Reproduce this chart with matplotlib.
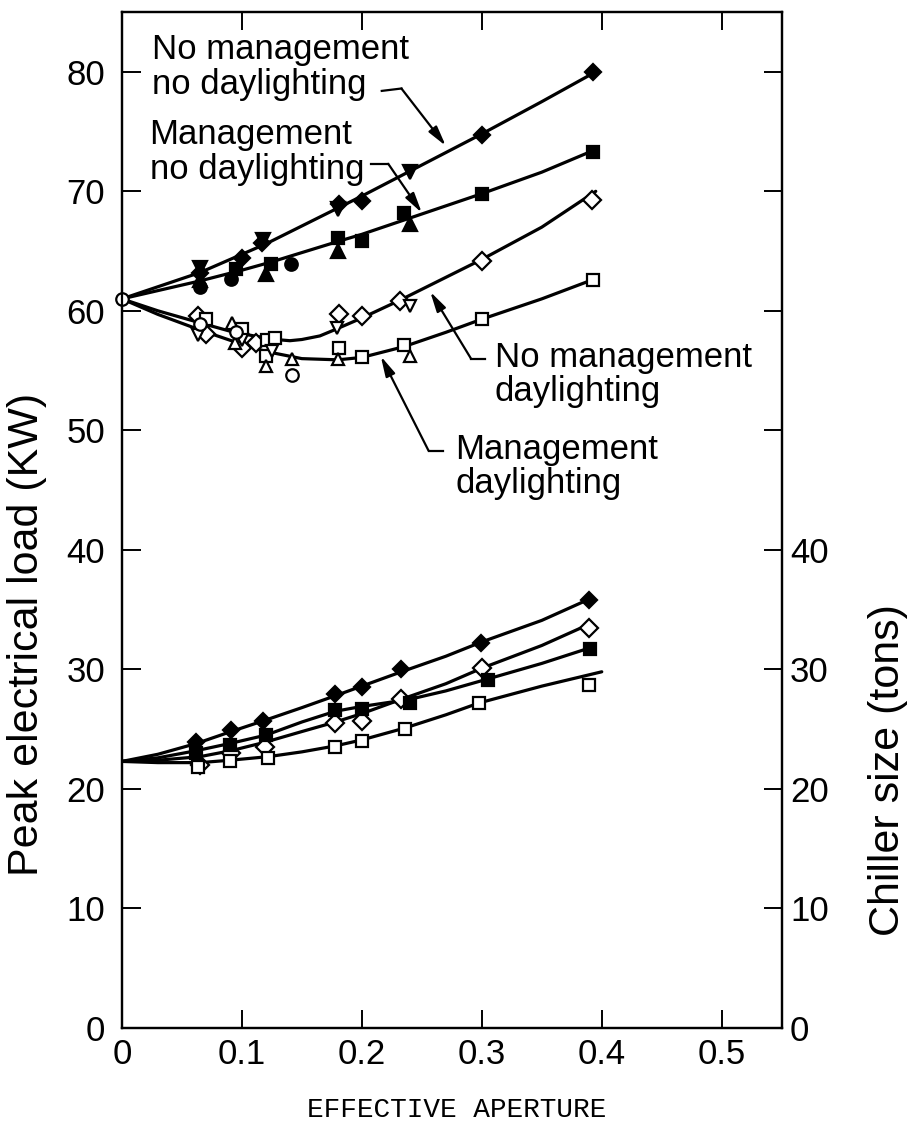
# Peak electrical load and chiller size vs effective aperture
import numpy as np
import matplotlib.pyplot as plt

plt.rcParams['font.family'] = ['Liberation Sans', 'DejaVu Sans']

# --- fitted curves (upper: peak load, kW) ---
nmnd_cx = [0, 0.065, 0.12, 0.2, 0.25, 0.3, 0.35, 0.395]
nmnd_cy = [61, 63.2, 65.6, 69.6, 72.2, 74.8, 77.5, 80.0]
mnd_cx = [0, 0.065, 0.1, 0.125, 0.18, 0.2, 0.25, 0.3, 0.35, 0.395]
mnd_cy = [61, 62.5, 63.4, 64.1, 65.8, 66.4, 68.1, 69.8, 71.6, 73.5]
nmd_cx = [0, 0.03, 0.065, 0.09, 0.11, 0.128, 0.14, 0.15, 0.165, 0.177, 0.2, 0.232, 0.256, 0.3, 0.35, 0.395]
nmd_cy = [61, 60.0, 59.0, 58.3, 57.9, 57.6, 57.5, 57.6, 57.9, 58.4, 59.4, 60.9, 62.1, 64.3, 67.0, 70.0]
md_cx = [0, 0.03, 0.065, 0.1, 0.12, 0.15, 0.18, 0.2, 0.235, 0.27, 0.3, 0.35, 0.395]
md_cy = [61, 59.7, 58.4, 57.2, 56.6, 56.0, 55.9, 56.1, 57.0, 58.2, 59.3, 61.0, 62.7]

# --- fitted curves (lower: chiller size, tons) ---
c_fd_x = [0, 0.03, 0.062, 0.091, 0.118, 0.15, 0.178, 0.2, 0.233, 0.27, 0.3, 0.35, 0.39]
c_fd_y = [22.3, 22.9, 23.8, 24.8, 25.7, 26.8, 27.8, 28.6, 29.8, 31.1, 32.3, 34.1, 35.9]
c_od_x = [0, 0.03, 0.065, 0.091, 0.119, 0.15, 0.178, 0.2, 0.233, 0.27, 0.3, 0.35, 0.39]
c_od_y = [22.3, 22.4, 22.7, 23.2, 23.9, 24.8, 25.6, 26.3, 27.5, 28.8, 30.1, 32.0, 33.8]
c_fs_x = [0, 0.03, 0.062, 0.09, 0.12, 0.15, 0.178, 0.2, 0.24, 0.27, 0.305, 0.35, 0.39]
c_fs_y = [22.3, 22.6, 23.2, 23.8, 24.5, 25.6, 26.5, 26.9, 27.5, 28.2, 29.2, 30.5, 31.8]
c_os_x = [0, 0.03, 0.065, 0.09, 0.122, 0.15, 0.178, 0.2, 0.236, 0.27, 0.298, 0.35, 0.4]
c_os_y = [22.3, 22.2, 22.2, 22.4, 22.7, 23.1, 23.6, 24.1, 25.1, 26.2, 27.2, 28.6, 29.8]

# --- data points, upper group ---
fdia_x = [0.065, 0.1, 0.117, 0.181, 0.2, 0.3, 0.393]
fdia_y = [63.2, 64.4, 65.7, 68.9, 69.2, 74.7, 80.0]
fdtri_x = [0.065, 0.118, 0.18, 0.24]
fdtri_y = [63.6, 65.9, 68.5, 71.6]
fsq_x = [0.095, 0.124, 0.18, 0.2, 0.235, 0.3, 0.393]
fsq_y = [63.5, 63.9, 66.1, 65.8, 68.2, 69.8, 73.3]
futri_x = [0.065, 0.12, 0.18, 0.24]
futri_y = [62.6, 63.1, 65.0, 67.3]
fcir_x = [0.065, 0.091, 0.141]
fcir_y = [62.0, 62.7, 63.9]

odia_x = [0.063, 0.07, 0.1, 0.112, 0.181, 0.2, 0.232, 0.3, 0.392]
odia_y = [59.6, 58.1, 56.9, 57.3, 59.7, 59.6, 60.8, 64.2, 69.3]
osq_x = [0.07, 0.1, 0.121, 0.128, 0.12, 0.181, 0.2, 0.235, 0.3, 0.393]
osq_y = [59.3, 58.5, 57.6, 57.7, 56.2, 56.9, 56.1, 57.1, 59.3, 62.6]
outri_x = [0.092, 0.094, 0.12, 0.142, 0.18, 0.24]
outri_y = [59.0, 57.3, 55.4, 56.0, 56.0, 56.2]
odtri_x = [0.063, 0.1, 0.125, 0.179, 0.24]
odtri_y = [58.0, 57.6, 56.6, 58.6, 60.4]
ocir_x = [0, 0.065, 0.095, 0.142]
ocir_y = [61.0, 58.9, 58.2, 54.6]

# --- data points, lower group (chiller) ---
cfd_x = [0.062, 0.091, 0.118, 0.178, 0.2, 0.233, 0.299, 0.389]
cfd_y = [23.9, 24.9, 25.7, 27.9, 28.5, 30.0, 32.2, 35.8]
cod_x = [0.065, 0.091, 0.119, 0.178, 0.2, 0.233, 0.3, 0.389]
cod_y = [22.0, 23.0, 23.5, 25.5, 25.7, 27.5, 30.1, 33.5]
cfs_x = [0.062, 0.09, 0.12, 0.178, 0.2, 0.24, 0.305, 0.39]
cfs_y = [23.0, 23.7, 24.5, 26.6, 26.7, 27.2, 29.1, 31.7]
cos_x = [0.063, 0.09, 0.122, 0.178, 0.2, 0.236, 0.298, 0.389]
cos_y = [21.8, 22.3, 22.6, 23.5, 24.0, 25.0, 27.2, 28.7]

xticks = [0, 0.1, 0.2, 0.3, 0.4, 0.5]
xticklabels = ['0', '0.1', '0.2', '0.3', '0.4', '0.5']
yticks = [0, 10, 20, 30, 40, 50, 60, 70, 80]
rticklabels = ['0', '10', '20', '30', '40', '', '', '', '']

fig = plt.figure(figsize=(9.10, 11.33), dpi=100)
ax = fig.add_axes([0.134, 0.0927, 0.725, 0.8967])

lw = 2.3
for cx, cy in [(nmnd_cx, nmnd_cy), (mnd_cx, mnd_cy), (nmd_cx, nmd_cy), (md_cx, md_cy),
               (c_fd_x, c_fd_y), (c_od_x, c_od_y), (c_fs_x, c_fs_y), (c_os_x, c_os_y)]:
    ax.plot(cx, cy, color='black', lw=lw, solid_capstyle='round', solid_joinstyle='round', zorder=2)

ms = 9
def pts(x, y, m, filled, size=ms):
    ax.plot(x, y, ls='none', marker=m, ms=size, mec='black', mew=1.6,
            mfc='black' if filled else 'white', zorder=3, clip_on=False)

pts(fdia_x, fdia_y, 'D', True, 8.5)
pts(fdtri_x, fdtri_y, 'v', True, 10)
pts(fsq_x, fsq_y, 's', True, 9)
pts(futri_x, futri_y, '^', True, 10)
pts(fcir_x, fcir_y, 'o', True, 9)
pts(odia_x, odia_y, 'D', False, 9)
pts(osq_x, osq_y, 's', False, 9)
pts(outri_x, outri_y, '^', False, 9)
pts(odtri_x, odtri_y, 'v', False, 9)
pts(ocir_x, ocir_y, 'o', False, 9)
pts(cfd_x, cfd_y, 'D', True, 8.5)
pts(cod_x, cod_y, 'D', False, 9.5)
pts(cfs_x, cfs_y, 's', True, 9)
pts(cos_x, cos_y, 's', False, 9)

ax.set_xlim(0, 0.55)
ax.set_ylim(0, 85)
ax.set_xticks(xticks)
ax.set_xticklabels(xticklabels)
ax.set_yticks(yticks)
for s in ax.spines.values():
    s.set_linewidth(1.6)
ax.tick_params(axis='both', direction='in', labelsize=25, width=1.4)
ax.tick_params(axis='y', length=14, pad=12)
ax.tick_params(axis='x', length=13, pad=7, top=True)

ax2 = ax.twinx()
ax2.set_ylim(0, 85)
ax2.set_yticks(yticks)
ax2.set_yticklabels(rticklabels)
ax2.tick_params(axis='y', direction='in', length=13, width=1.4, labelsize=25, pad=6)
for s in ax2.spines.values():
    s.set_linewidth(1.6)

# annotations with leader lines
fs = 25
ax.text(0.025, 80.4, 'No management\nno daylighting', fontsize=fs, va='center', ha='left', linespacing=1.05)
ax.text(0.023, 73.3, 'Management\nno daylighting', fontsize=fs, va='center', ha='left', linespacing=1.05)
ax.text(0.311, 54.7, 'No management\ndaylighting', fontsize=fs, va='center', ha='left', linespacing=1.05)
ax.text(0.278, 47.0, 'Management\ndaylighting', fontsize=fs, va='center', ha='left', linespacing=1.05)

aprops = dict(arrowstyle='-|>,head_length=1.2,head_width=0.3', color='black', lw=1.6, shrinkA=0, shrinkB=0)
ax.plot([0.2166, 0.233], [78.4, 78.6], color='black', lw=1.6)
ax.annotate('', xy=(0.27, 73.8), xytext=(0.233, 78.6), arrowprops=aprops)
ax.plot([0.208, 0.222], [72.3, 72.3], color='black', lw=1.6)
ax.annotate('', xy=(0.25, 68.2), xytext=(0.222, 72.3), arrowprops=aprops)
ax.plot([0.291, 0.303], [56.0, 56.0], color='black', lw=1.6)
ax.annotate('', xy=(0.257, 61.6), xytext=(0.291, 56.0), arrowprops=aprops)
ax.plot([0.2556, 0.268], [48.3, 48.3], color='black', lw=1.6)
ax.annotate('', xy=(0.2158, 56.2), xytext=(0.2556, 48.3), arrowprops=aprops)

fig.text(0.03, 0.44, 'Peak electrical load (KW)', rotation=90, fontsize=31, ha='center', va='center')
fig.text(0.976, 0.32, 'Chiller size (tons)', rotation=90, fontsize=31, ha='center', va='center')
fig.text(0.502, 0.02, 'EFFECTIVE APERTURE', fontsize=20, family='Liberation Mono', ha='center', va='center')

fig.savefig('out.png', dpi=100)
